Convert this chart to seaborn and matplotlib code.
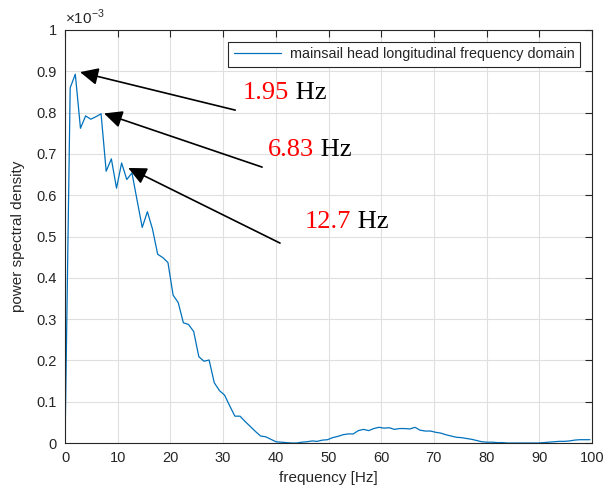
import matplotlib
matplotlib.use("Agg")
import matplotlib.pyplot as plt
import matplotlib.ticker as mticker
import seaborn as sns
import pandas as pd

# frequency bins [Hz]
freq_hz = [0.00, 0.98, 1.95, 2.93, 3.91, 4.88, 5.86, 6.84, 7.81, 8.79,
           9.77, 10.74, 11.72, 12.70, 13.67, 14.65, 15.63, 16.60, 17.58, 18.55,
           19.53, 20.51, 21.48, 22.46, 23.44, 24.41, 25.39, 26.37, 27.34, 28.32,
           29.30, 30.27, 31.25, 32.23, 33.20, 34.18, 35.16, 36.13, 37.11, 38.09,
           39.06, 40.04, 41.02, 41.99, 42.97, 43.95, 44.92, 45.90, 46.88, 47.85,
           48.83, 49.80, 50.78, 51.76, 52.73, 53.71, 54.69, 55.66, 56.64, 57.62,
           58.59, 59.57, 60.55, 61.52, 62.50, 63.48, 64.45, 65.43, 66.41, 67.38,
           68.36, 69.34, 70.31, 71.29, 72.27, 73.24, 74.22, 75.20, 76.17, 77.15,
           78.13, 79.10, 80.08, 81.05, 82.03, 83.01, 83.98, 84.96, 85.94, 86.91,
           87.89, 88.87, 89.84, 90.82, 91.80, 92.77, 93.75, 94.73, 95.70, 96.68,
           97.66, 98.63, 99.61]

# power spectral density, in units of 1e-3
psd_e3 = [0.000, 0.860, 0.893, 0.762, 0.792, 0.784, 0.790, 0.797, 0.658, 0.688,
          0.617, 0.678, 0.638, 0.654, 0.588, 0.522, 0.560, 0.518, 0.457, 0.449,
          0.437, 0.358, 0.340, 0.291, 0.287, 0.270, 0.209, 0.198, 0.201, 0.146,
          0.127, 0.116, 0.090, 0.065, 0.065, 0.052, 0.040, 0.028, 0.017, 0.015,
          0.009, 0.003, 0.002, 0.001, 0.000, 0.000, 0.002, 0.003, 0.005, 0.004,
          0.007, 0.008, 0.013, 0.016, 0.020, 0.022, 0.022, 0.030, 0.033, 0.030,
          0.035, 0.038, 0.036, 0.037, 0.033, 0.035, 0.035, 0.034, 0.038, 0.031,
          0.029, 0.029, 0.026, 0.024, 0.020, 0.017, 0.014, 0.013, 0.011, 0.009,
          0.006, 0.003, 0.002, 0.002, 0.001, 0.001, 0.000, 0.000, 0.000, 0.000,
          0.000, 0.000, 0.000, 0.001, 0.002, 0.003, 0.004, 0.004, 0.005, 0.007,
          0.008, 0.008, 0.008]

# peak annotations: label, arrow head, arrow tail, text position
peak_labels = ["1.95", "6.83", "12.7"]
peak_heads = [(2.85, 0.898), (7.4, 0.798), (12.0, 0.666)]
peak_tails = [(32.3, 0.806), (37.4, 0.668), (40.8, 0.484)]
peak_text_pos = [(33.8, 0.847), (38.5, 0.709), (45.5, 0.535)]

sns.set_style("white")
plt.rcParams['font.family'] = ['Liberation Sans', 'DejaVu Sans']
plt.rcParams['mathtext.fontset'] = 'custom'
plt.rcParams['mathtext.rm'] = 'Liberation Sans'

df = pd.DataFrame({'freq': freq_hz, 'psd': psd_e3})

fig = plt.figure(figsize=(6.14, 4.99), dpi=100)
ax = fig.add_axes([0.1059, 0.1122, 0.8583, 0.8277])

sns.lineplot(data=df, x='freq', y='psd', ax=ax, color='#0072BD', linewidth=0.9,
             label='mainsail head longitudinal frequency domain')

ax.set_xlim(0, 100)
ax.set_ylim(0, 1)
ax.set_xticks(range(0, 101, 10))
ax.set_yticks([i / 10 for i in range(11)])
ax.yaxis.set_major_formatter(mticker.FormatStrFormatter('%g'))
ax.grid(True, color='#dfdfdf', linewidth=0.8)
ax.set_axisbelow(True)
for sp in ax.spines.values():
    sp.set_color('#262626')
    sp.set_linewidth(0.8)
ax.tick_params(direction='in', top=True, right=True, length=5, width=0.8,
               colors='#262626', labelsize=10.5, pad=6)
ax.set_xlabel('frequency [Hz]', fontsize=11, color='#262626', labelpad=4)
ax.set_ylabel('power spectral density', fontsize=11, color='#262626', labelpad=8)
ax.text(0.0, 1.008, r'$\times10^{-3}$', transform=ax.transAxes, fontsize=11,
        color='#262626', ha='left', va='bottom')

leg = ax.legend(loc='upper right', fontsize=10.4, fancybox=False, framealpha=1,
                edgecolor='#262626', handlelength=3.3, borderaxespad=0.8,
                borderpad=0.4, handletextpad=0.6)
leg.get_frame().set_linewidth(0.8)

for lab, head, tail, pos in zip(peak_labels, peak_heads, peak_tails, peak_text_pos):
    ax.annotate('', xy=head, xytext=tail,
                arrowprops=dict(arrowstyle='-|>,head_length=0.55,head_width=0.26',
                                mutation_scale=20, color='black', lw=1.2,
                                shrinkA=0, shrinkB=0))
    t = ax.text(pos[0], pos[1], lab, color='red', fontsize=19,
                family='Liberation Serif', va='center', ha='left')
    ax.annotate(' Hz', xy=(1, 0), xycoords=t, va='bottom', ha='left',
                color='black', fontsize=19, family='Liberation Serif')

fig.savefig('out.png', dpi=100, facecolor='white')
